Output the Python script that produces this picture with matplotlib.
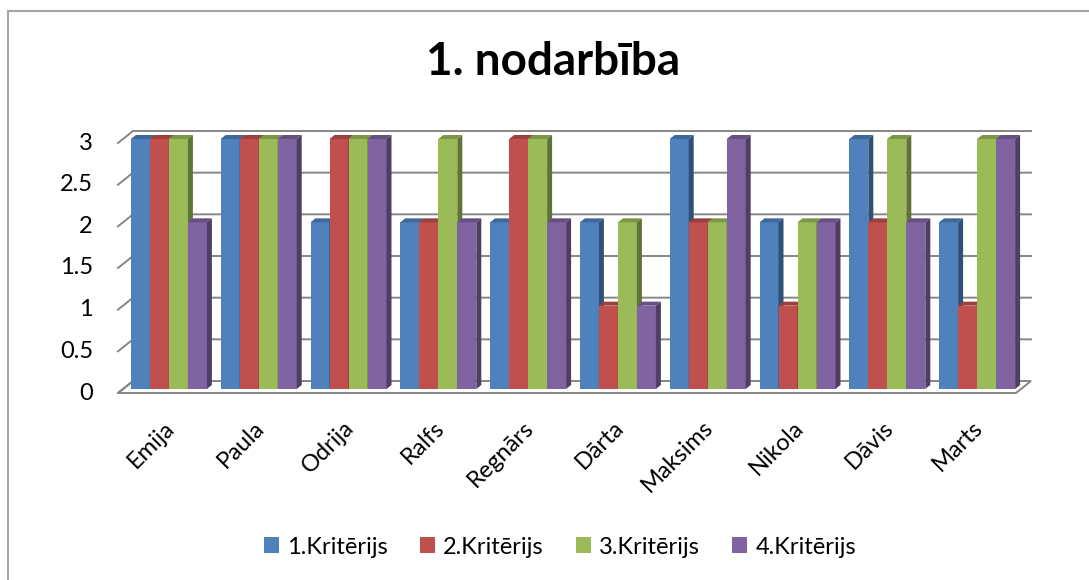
import numpy as np
import matplotlib
matplotlib.use("Agg")
import matplotlib.pyplot as plt
from matplotlib.patches import Polygon, Patch
from matplotlib.lines import Line2D
import matplotlib.colors as mcolors

plt.rcParams['font.family'] = ['Lato', 'DejaVu Sans']

# dati
vardi = ['Emija', 'Paula', 'Odrija', 'Ralfs', 'Regnārs', 'Dārta', 'Maksims', 'Nikola', 'Dāvis', 'Marts']
kriterijs1 = [3, 3, 2, 2, 2, 2, 3, 2, 3, 2]
kriterijs2 = [3, 3, 3, 2, 3, 1, 2, 1, 2, 1]
kriterijs3 = [3, 3, 3, 3, 3, 2, 2, 2, 3, 3]
kriterijs4 = [2, 3, 3, 2, 2, 1, 3, 2, 2, 3]
nosaukumi = ['1.Kritērijs', '2.Kritērijs', '3.Kritērijs', '4.Kritērijs']
krasas = ['#4F81BD', '#C0504D', '#9BBB59', '#8064A2']
y_ticks = [0, 0.5, 1, 1.5, 2, 2.5, 3]

serijas = [kriterijs1, kriterijs2, kriterijs3, kriterijs4]

fig = plt.figure(figsize=(10.89, 5.8), dpi=100)
ax = fig.add_axes([118 / 1089, 187 / 580, 898 / 1089, 250 / 580])
ax.set_xlim(-0.5, 9.5)
ax.set_ylim(0, 3)
ax.axis('off')

# pikseli -> datu vienibas
ux = 898 / 10
uy = 250 / 3
wall_dx, wall_dy = 15 / ux, 12 / uy   # aizmugures siena
bar_dx, bar_dy = 6 / ux, 4 / uy       # stabinu priekspuse
dep_dx, dep_dy = 5 / ux, 4 / uy       # stabinu dziļums
w = 19 / ux

grid_c = '#868686'

# grida
floor = Polygon([(-0.5, 0), (9.5, 0), (9.5 + wall_dx, wall_dy), (-0.5 + wall_dx, wall_dy)],
                closed=True, facecolor='white', edgecolor=grid_c, lw=1.4, clip_on=False, zorder=1)
ax.add_patch(floor)

# rezgis
for v in y_ticks[1:]:
    ax.plot([-0.5, -0.5 + wall_dx, 9.5 + wall_dx], [v, v + wall_dy, v + wall_dy],
            color=grid_c, lw=1.4, clip_on=False, zorder=1)
ax.plot([-0.5, -0.5 + wall_dx], [0, wall_dy], color=grid_c, lw=1.4, clip_on=False, zorder=1)


def tumsaka(c, f):
    r, g, b = mcolors.to_rgb(c)
    return (r * f, g * f, b * f)


x = np.arange(len(vardi))
z = 2
for i in range(len(vardi)):
    for j, ser in enumerate(serijas):
        h = ser[i]
        x0 = x[i] + (j - 2) * w + bar_dx
        y0 = bar_dy
        b = ax.bar(x0, h, width=w, bottom=y0, align='edge', color=krasas[j],
                   edgecolor='none', clip_on=False)
        b[0].set_zorder(z)
        top = Polygon([(x0, y0 + h), (x0 + w, y0 + h), (x0 + w + dep_dx, y0 + h + dep_dy),
                       (x0 + dep_dx, y0 + h + dep_dy)], closed=True,
                      facecolor=tumsaka(krasas[j], 0.8), edgecolor='none', clip_on=False, zorder=z)
        side = Polygon([(x0 + w, y0), (x0 + w + dep_dx, y0 + dep_dy), (x0 + w + dep_dx, y0 + h + dep_dy),
                        (x0 + w, y0 + h)], closed=True,
                       facecolor=tumsaka(krasas[j], 0.62), edgecolor='none', clip_on=False, zorder=z)
        ax.add_patch(top)
        ax.add_patch(side)
        z += 0.01

# ass uzraksti
for v in y_ticks:
    ax.text(-0.5 - 25 / ux, v, f'{v:g}', ha='right', va='center', fontsize=17)

for i, n in enumerate(vardi):
    ax.text(x[i] + 1 / ux, -24 / uy, n, rotation=45, rotation_mode='anchor',
            ha='right', va='top', fontsize=17)

fig.text(553 / 1089, 1 - 62 / 580, '1. nodarbība', ha='center', va='center',
         fontsize=33, fontweight='bold')

handles = [Patch(facecolor=c, edgecolor='none') for c in krasas]
fig.legend(handles, nosaukumi, loc='center', bbox_to_anchor=(560 / 1089, 1 - 547 / 580),
           ncol=4, frameon=False, fontsize=17, handlelength=0.64, handleheight=0.64,
           handletextpad=0.34, columnspacing=1.36)

# diagrammas rāmis
fig.add_artist(Line2D([8 / 1089, 8 / 1089], [0, 1 - 11 / 580], color='#A6A6A6', lw=1.5))
fig.add_artist(Line2D([8 / 1089, 1], [1 - 11 / 580, 1 - 11 / 580], color='#A6A6A6', lw=1.5))

fig.savefig('out.png', dpi=100)
